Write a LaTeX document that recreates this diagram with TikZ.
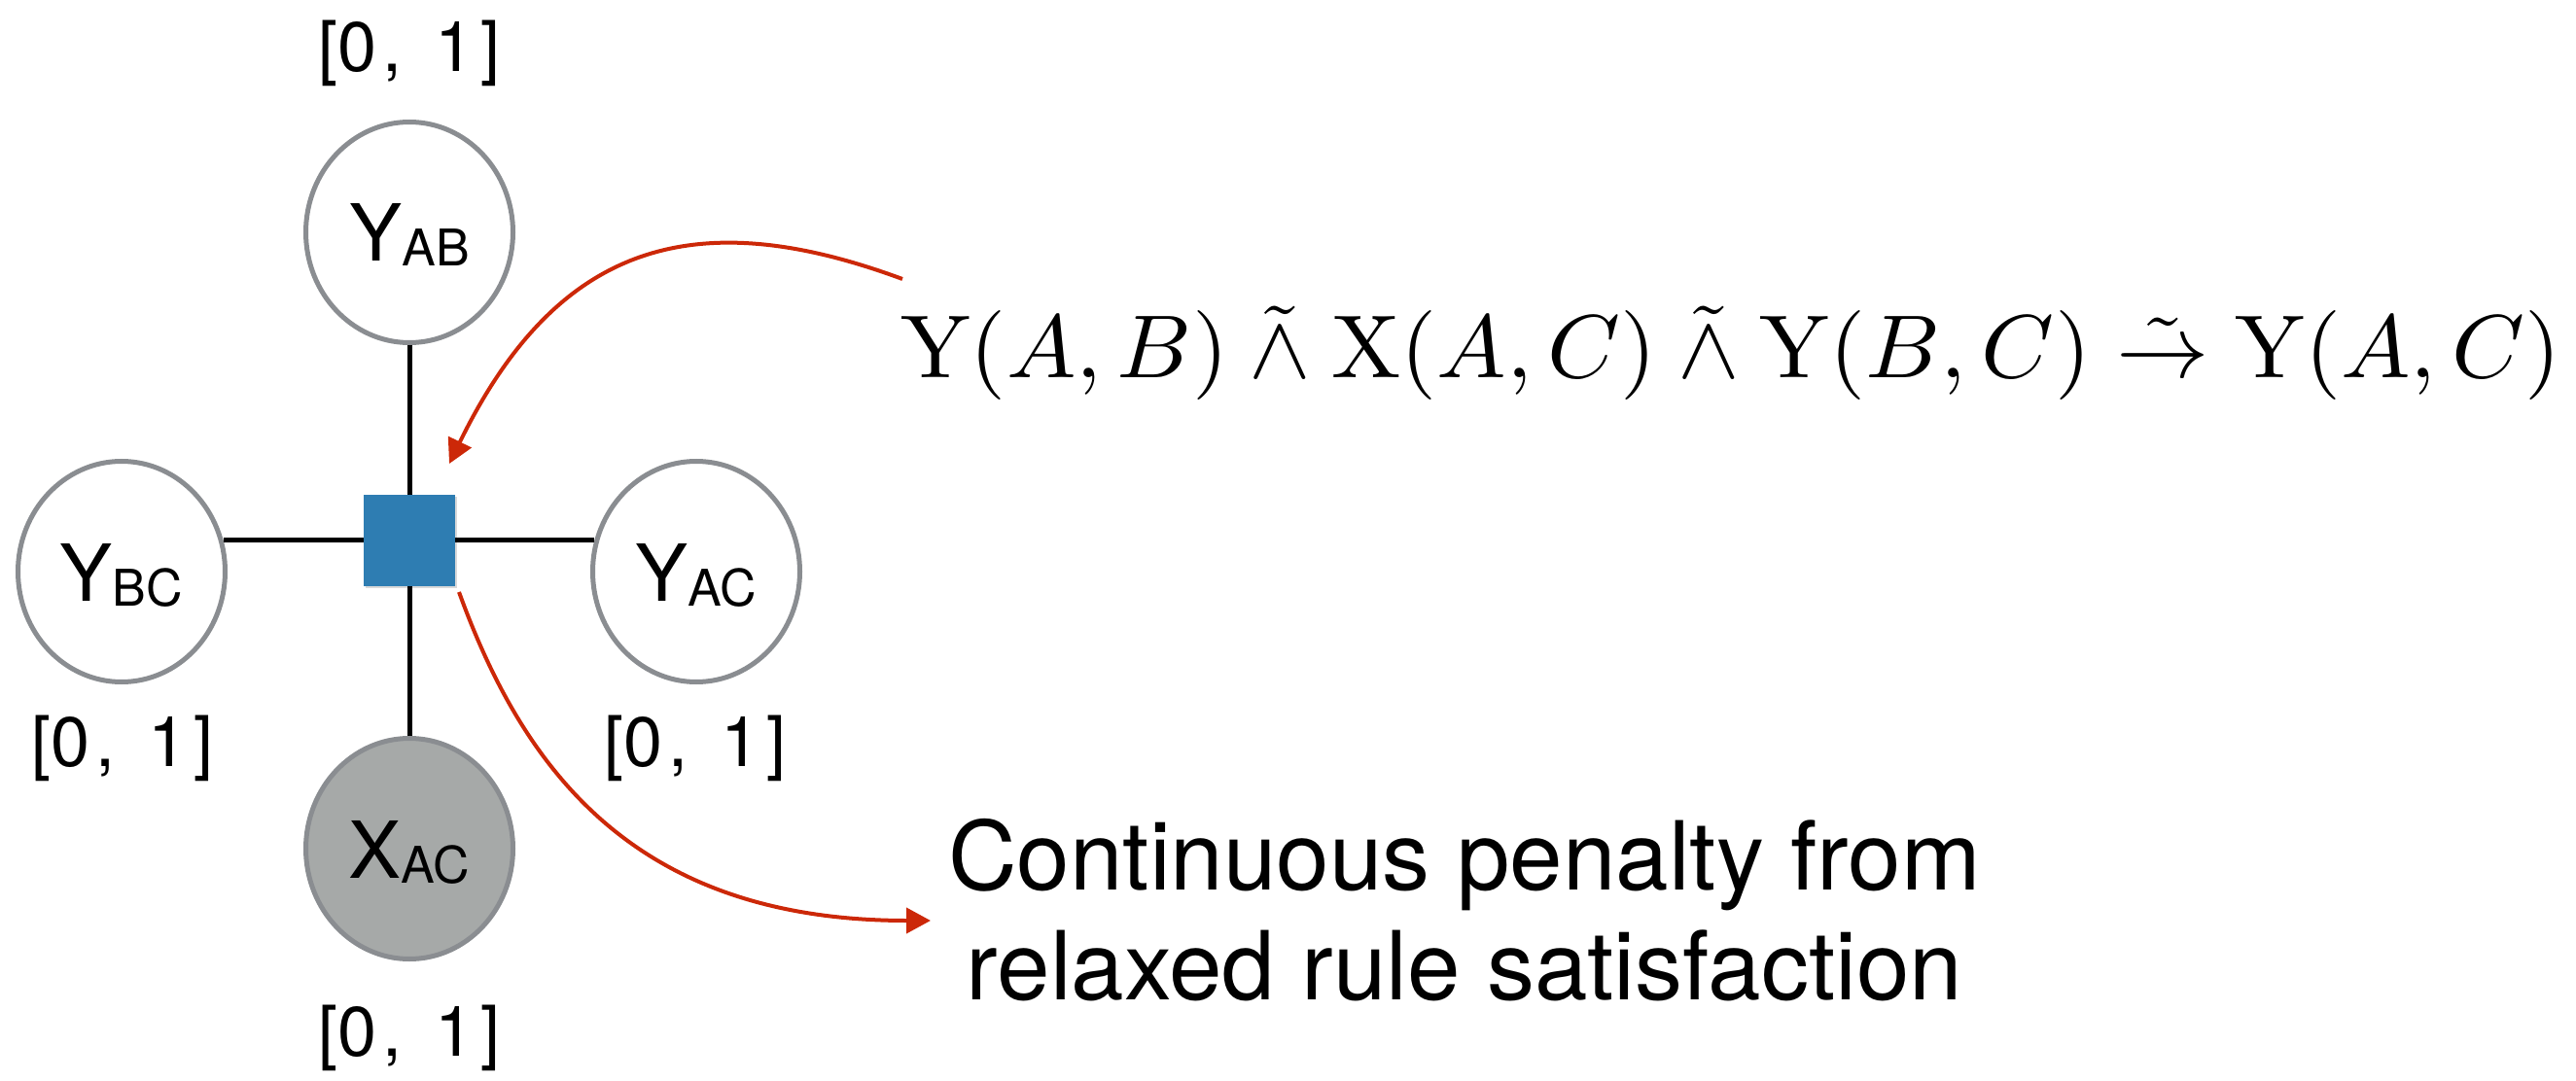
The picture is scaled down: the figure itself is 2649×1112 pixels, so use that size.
\documentclass[tikz,border=0pt]{standalone}
\usepackage{fontspec}
\usepackage{amsmath}
\newfontfamily\helv{TeX Gyre Heros}
\usetikzlibrary{arrows.meta,shapes.geometric,shadows}
\definecolor{circgray}{RGB}{138,141,145}
\definecolor{obsfill}{RGB}{166,169,168}
\definecolor{factblue}{RGB}{46,125,178}
\definecolor{arrred}{RGB}{204,40,8}
\newcommand{\vlab}[2]{{\helv\fontsize{40.5}{44}\selectfont #1}{\helv\fontsize{26}{28}\selectfont\raisebox{-2.5pt}{#2}}}
\newcommand{\unitrange}{[0\kern3pt,\kern7pt\ 1\kern3.5pt]}
\begin{document}
\begin{tikzpicture}[x=0.5pt,y=-0.5pt,
  var/.style={ellipse, minimum width=106.5pt, minimum height=113.5pt, draw=circgray,
    line width=2.5pt, fill=white, inner sep=0pt, text height=31pt, text depth=1pt},
  obs/.style={var, fill=obsfill},
  factor/.style={rectangle, minimum size=47pt, inner sep=0pt, fill=factblue,
    drop shadow={opacity=0.3, shadow xshift=0.8pt, shadow yshift=-1.2pt}},
  edge/.style={line width=2.5pt, black},
  rng/.style={inner sep=0pt, font=\helv\fontsize{36}{40}\selectfont},
  pen/.style={inner sep=0pt, anchor=base, font=\helv\fontsize{49}{56}\selectfont},
  redarrow/.style={draw=arrred, line width=2pt, -{Triangle[length=12.5pt,width=13pt]}}]
\useasboundingbox (0,0) rectangle (2649,1112);
% nodes
\node[var] (YAB) at (421,239) {\vlab{Y}{AB}};
\node[var] (YBC) at (125,588) {\vlab{Y}{BC}};
\node[var] (YAC) at (716,588) {\vlab{Y}{AC}};
\node[obs] (XAC) at (421,873) {\vlab{X}{AC}};
\node[factor] (F) at (421,556) {};
% edges
\draw[edge] (YAB) -- (F.north);
\draw[edge] (F.south) -- (XAC);
\draw[edge] (YBC.17) -- (YBC.17 -| F.west);
\draw[edge] (YAC.163) -- (YAC.163 -| F.east);
% ranges
\node[rng] (rAB) at (421,55) {\unitrange};
\node[rng] (rBC) at (126,770) {\unitrange};
\node[rng] (rAC) at (715,770) {\unitrange};
\node[rng] (rXAC) at (421,1068) {\unitrange};
% formula
\node[inner sep=0pt, anchor=base west] (rule) at (926,388)
  {\scalebox{4.77}[4.6]{$\mathrm{Y}(A,B)\mathbin{\tilde{\wedge}}\mathrm{X}(A,C)\mathbin{\tilde{\wedge}}\mathrm{Y}(B,C)\mathrel{\tilde{\rightarrow}}\mathrm{Y}(A,C)$}};
% penalty text
\node[pen] (pen1) at (1506,915) {Continuous penalty from};
\node[pen] (pen2) at (1506,1028) {relaxed rule satisfaction};
% arrows
\coordinate (a1s) at (928,287);
\coordinate (a1e) at (462,477);
\coordinate (a2s) at (472,609);
\coordinate (a2e) at (957,947);
\draw[redarrow] (a1s) .. controls (712,207) and (572,252) .. (a1e);
\draw[redarrow] (a2s) .. controls (540,797) and (657,947) .. (a2e);
\end{tikzpicture}
\end{document}
